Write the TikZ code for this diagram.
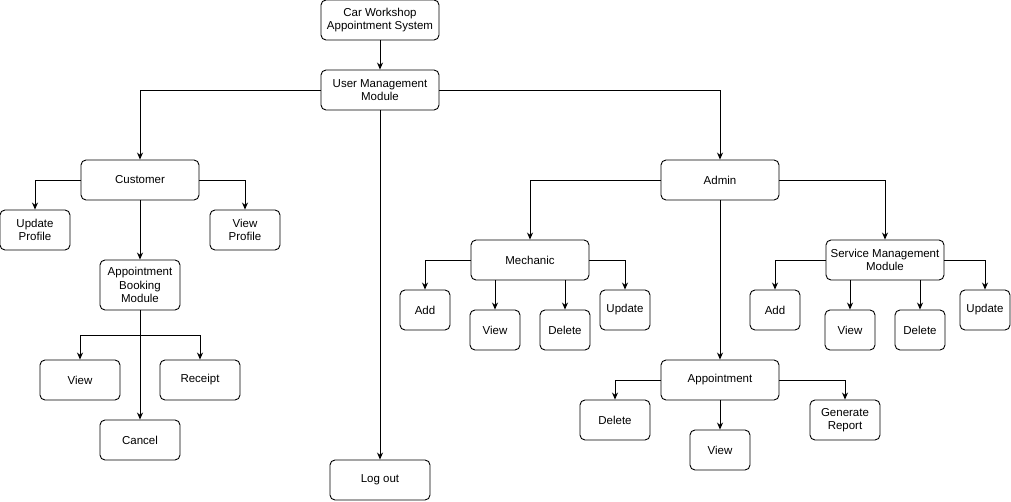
\documentclass[tikz,border=0pt]{standalone}
\usepackage{fontspec}
\setmainfont{Liberation Sans}
\usetikzlibrary{arrows.meta,positioning}

\begin{document}
\begin{tikzpicture}[x=1pt,y=-1pt,
        every node/.style={draw, rounded corners=5pt, fill=white, align=center, font=\fontsize{11.5}{13.5}\selectfont, inner sep=1pt},
        every path/.style={line width=0.9pt},
        wide/.style={minimum width=118pt, minimum height=40pt},
        leaf/.style={minimum width=70pt, minimum height=40pt},
        small/.style={minimum width=50pt, minimum height=40pt},
        arr/.style={-{Stealth[length=7pt,width=6pt]}}
    ]
    \useasboundingbox (0,0) rectangle (1011,502);

    % Nodes
    \node[wide] (title) at (380,20) {Car Workshop\\Appointment System};
    \node[wide] (user) at (380,90) {User Management\\Module};
    \node[wide] (customer) at (140,180) {Customer};
    \node[leaf] (updprof) at (35,230) {Update\\Profile};
    \node[leaf] (viewprof) at (245,230) {View\\Profile};
    \node[minimum width=80pt, minimum height=50pt] (booking) at (140,285) {Appointment\\Booking\\Module};
    \node[minimum width=80pt, minimum height=40pt] (bview) at (80,380) {View};
    \node[minimum width=80pt, minimum height=40pt] (receipt) at (200,380) {Receipt};
    \node[minimum width=80pt, minimum height=40pt] (cancel) at (140,440) {Cancel};
    \node[minimum width=100pt, minimum height=40pt] (logout) at (380,480) {Log out};
    \node[wide] (admin) at (720,180) {Admin};
    \node[wide] (mechanic) at (530,260) {Mechanic};
    \node[small] (madd) at (425,310) {Add};
    \node[small] (mview) at (495,330) {View};
    \node[small] (mdel) at (565,330) {Delete};
    \node[small] (mupd) at (625,310) {Update};
    \node[wide] (service) at (885,260) {Service Management\\Module};
    \node[small] (sadd) at (775,310) {Add};
    \node[small] (sview) at (850,330) {View};
    \node[small] (sdel) at (920,330) {Delete};
    \node[small] (supd) at (985,310) {Update};
    \node[wide] (appt) at (720,380) {Appointment};
    \node[leaf] (adel) at (615,420) {Delete};
    \node[minimum width=60pt, minimum height=40pt] (aview) at (720,450) {View};
    \node[leaf] (report) at (845,420) {Generate\\Report};

    % Edges
    \draw[arr] (title) -- (user);
    \draw[arr] (user.west) -| (customer.north);
    \draw[arr] (user.east) -| (admin.north);
    \draw[arr] (user) -- (logout);
    \draw[arr] (customer.west) -| (updprof.north);
    \draw[arr] (customer.east) -| (viewprof.north);
    \draw[arr] (customer) -- (booking);
    \draw[arr] (booking) -- (cancel);
    \coordinate (bsplit) at (140,335);
    \draw[arr] (bsplit) -| (bview.north);
    \draw[arr] (bsplit) -| (receipt.north);
    \draw[arr] (admin.west) -| (mechanic.north);
    \draw[arr] (admin.east) -| (service.north);
    \draw[arr] (admin) -- (appt);
    \draw[arr] (mechanic.west) -| (madd.north);
    \draw[arr] (mechanic.east) -| (mupd.north);
    \draw[arr] (mechanic.south -| mview) -- (mview.north);
    \draw[arr] (mechanic.south -| mdel) -- (mdel.north);
    \draw[arr] (service.west) -| (sadd.north);
    \draw[arr] (service.east) -| (supd.north);
    \draw[arr] (service.south -| sview) -- (sview.north);
    \draw[arr] (service.south -| sdel) -- (sdel.north);
    \draw[arr] (appt.west) -| (adel.north);
    \draw[arr] (appt.east) -| (report.north);
    \draw[arr] (appt) -- (aview);

\end{tikzpicture}
\end{document}
